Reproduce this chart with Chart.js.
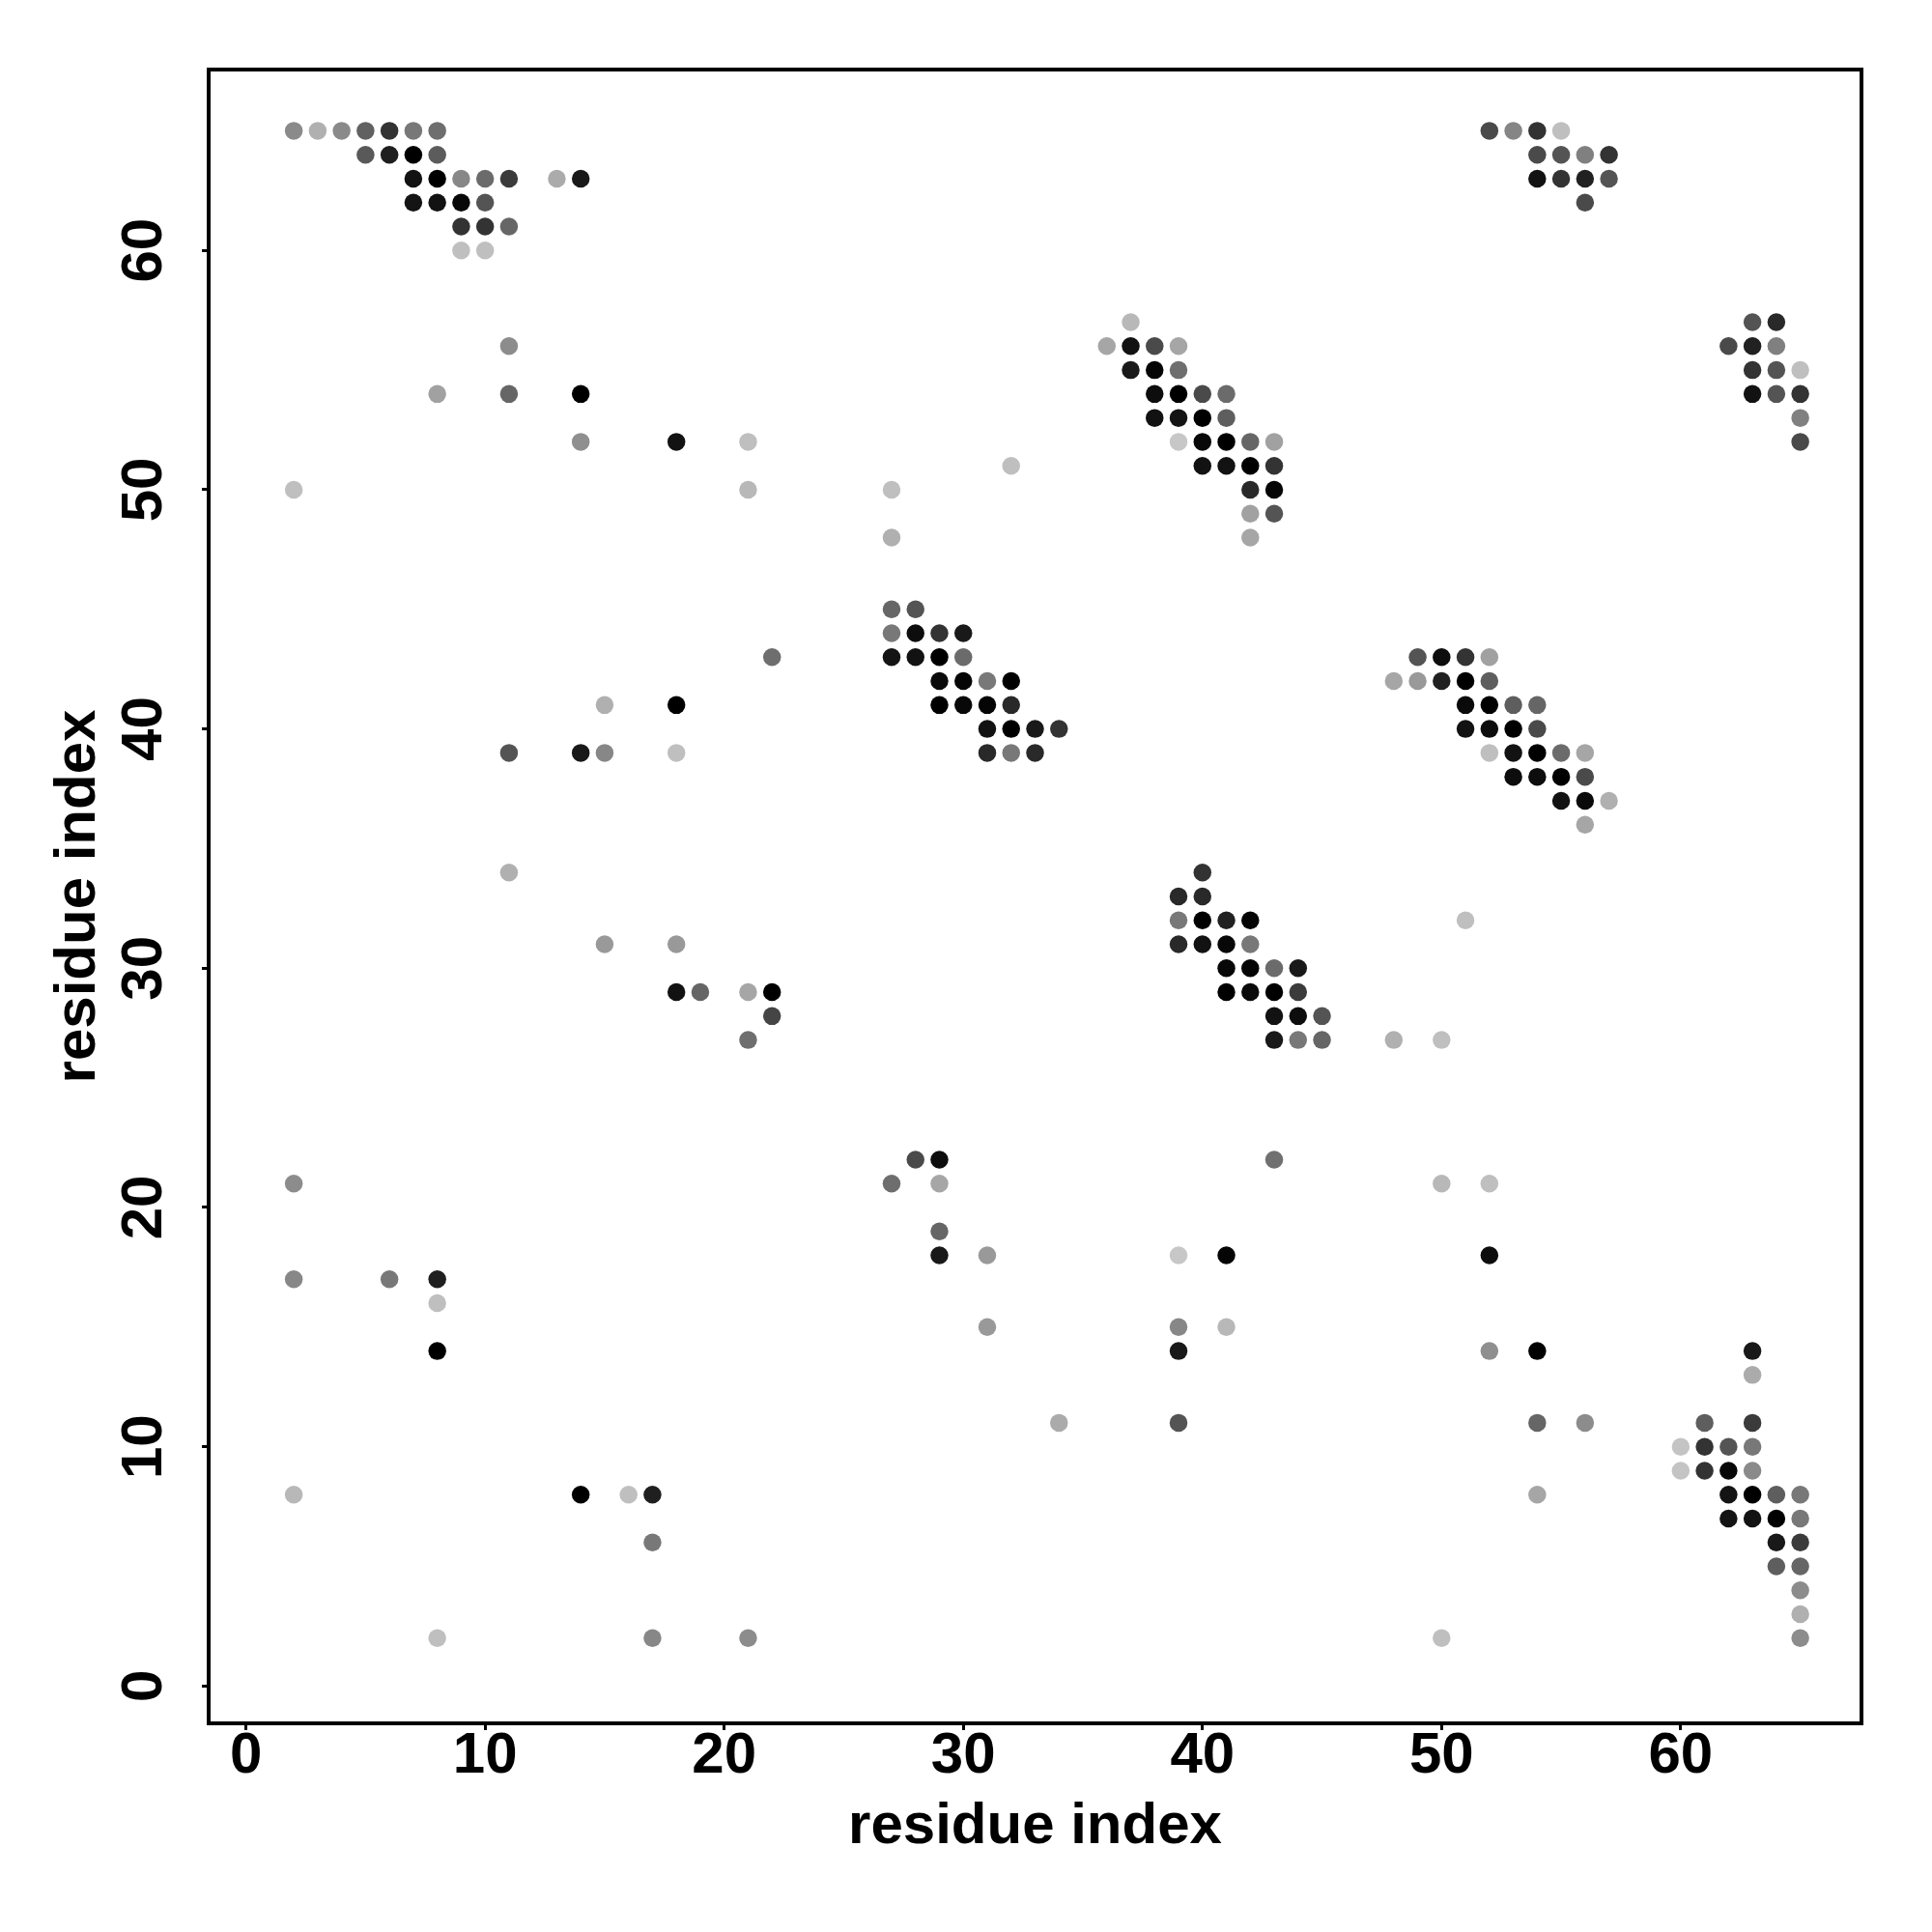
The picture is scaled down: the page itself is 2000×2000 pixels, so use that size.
<!DOCTYPE html>
<html>
<head>
<meta charset="utf-8">
<script src="https://cdn.jsdelivr.net/npm/chart.js@4/dist/chart.umd.min.js"></script>
<style>
  html, body { margin: 0; padding: 0; background: #fff; }
  #wrap { width: 2000px; height: 2000px; }
</style>
</head>
<body>
<div id="wrap"><canvas id="contactMap" width="2000" height="2000"></canvas></div>
<script>
// predicted contacts, one row per second residue index
const rowY = [65, 64, 63, 62, 61, 60, 57, 56, 55, 54, 53, 52, 51, 50, 49, 48, 45, 44, 43, 42,
              41, 40, 39, 38, 37, 36, 34, 33, 32, 31, 30, 29, 28, 27, 22, 21, 19, 18, 17, 16,
              15, 14, 13, 11, 10, 9, 8, 7, 6, 5, 4, 3, 2];

const rowX = [
  [2, 3, 4, 5, 6, 7, 8, 52, 53, 54, 55],
  [5, 6, 7, 8, 54, 55, 56, 57],
  [7, 8, 9, 10, 11, 13, 14, 54, 55, 56, 57],
  [7, 8, 9, 10, 56],
  [9, 10, 11],
  [9, 10],
  [37, 63, 64],
  [11, 36, 37, 38, 39, 62, 63, 64],
  [37, 38, 39, 63, 64, 65],
  [8, 11, 14, 38, 39, 40, 41, 63, 64, 65],
  [38, 39, 40, 41, 65],
  [14, 18, 21, 39, 40, 41, 42, 43, 65],
  [32, 40, 41, 42, 43],
  [2, 21, 27, 42, 43],
  [42, 43],
  [27, 42],
  [27, 28],
  [27, 28, 29, 30],
  [22, 27, 28, 29, 30, 49, 50, 51, 52],
  [29, 30, 31, 32, 48, 49, 50, 51, 52],
  [15, 18, 29, 30, 31, 32, 51, 52, 53, 54],
  [31, 32, 33, 34, 51, 52, 53, 54],
  [11, 14, 15, 18, 31, 32, 33, 52, 53, 54, 55, 56],
  [53, 54, 55, 56],
  [55, 56, 57],
  [56],
  [11, 40],
  [39, 40],
  [39, 40, 41, 42, 51],
  [15, 18, 39, 40, 41, 42],
  [41, 42, 43, 44],
  [18, 19, 21, 22, 41, 42, 43, 44],
  [22, 43, 44, 45],
  [21, 43, 44, 45, 48, 50],
  [28, 29, 43],
  [2, 27, 29, 50, 52],
  [29],
  [29, 31, 39, 41, 52],
  [2, 6, 8],
  [8],
  [31, 39, 41],
  [8, 39, 52, 54, 63],
  [63],
  [34, 39, 54, 56, 61, 63],
  [60, 61, 62, 63],
  [60, 61, 62, 63],
  [2, 14, 16, 17, 54, 62, 63, 64, 65],
  [62, 63, 64, 65],
  [17, 64, 65],
  [64, 65],
  [65],
  [65],
  [8, 17, 21, 50, 65]
];

// contact probability (darker = higher)
const rowProb = [
  [0.46, 0.31, 0.46, 0.62, 0.80, 0.53, 0.57, 0.71, 0.48, 0.80, 0.25],
  [0.65, 0.88, 1.00, 0.64, 0.71, 0.67, 0.50, 0.80],
  [0.93, 1.00, 0.47, 0.58, 0.77, 0.33, 0.90, 0.93, 0.80, 0.87, 0.67],
  [0.92, 0.93, 0.97, 0.67, 0.71],
  [0.80, 0.80, 0.60],
  [0.25, 0.25],
  [0.28, 0.67, 0.84],
  [0.45, 0.35, 0.93, 0.71, 0.35, 0.71, 0.87, 0.50],
  [0.90, 0.98, 0.57, 0.80, 0.67, 0.25],
  [0.37, 0.60, 1.00, 0.95, 1.00, 0.71, 0.58, 0.93, 0.67, 0.80],
  [0.93, 0.92, 1.00, 0.63, 0.50],
  [0.44, 0.93, 0.25, 0.22, 0.97, 1.00, 0.60, 0.37, 0.71],
  [0.25, 0.93, 0.93, 1.00, 0.80],
  [0.25, 0.28, 0.25, 0.84, 0.98],
  [0.37, 0.67],
  [0.31, 0.35],
  [0.60, 0.67],
  [0.53, 0.95, 0.80, 0.90],
  [0.57, 0.92, 0.93, 1.00, 0.58, 0.67, 0.95, 0.80, 0.37],
  [0.96, 0.98, 0.53, 1.00, 0.35, 0.40, 0.87, 1.00, 0.63],
  [0.31, 1.00, 1.00, 0.97, 0.98, 0.84, 0.96, 1.00, 0.63, 0.60],
  [0.93, 1.00, 0.90, 0.80, 0.93, 0.95, 1.00, 0.71],
  [0.67, 0.90, 0.47, 0.25, 0.84, 0.53, 0.84, 0.25, 0.93, 1.00, 0.58, 0.35],
  [0.95, 0.95, 1.00, 0.71],
  [0.93, 0.96, 0.31],
  [0.35],
  [0.31, 0.80],
  [0.84, 0.84],
  [0.53, 1.00, 0.87, 0.98, 0.25],
  [0.40, 0.40, 0.84, 0.93, 0.97, 0.53],
  [0.97, 0.98, 0.58, 0.90],
  [0.93, 0.60, 0.35, 1.00, 1.00, 0.96, 1.00, 0.77],
  [0.73, 0.93, 0.95, 0.67],
  [0.57, 0.90, 0.53, 0.60, 0.31, 0.25],
  [0.71, 0.95, 0.56],
  [0.45, 0.57, 0.35, 0.28, 0.25],
  [0.60],
  [0.90, 0.40, 0.22, 0.98, 0.95],
  [0.47, 0.53, 0.88],
  [0.25],
  [0.40, 0.47, 0.28],
  [1.00, 0.90, 0.44, 1.00, 0.90],
  [0.33],
  [0.33, 0.67, 0.60, 0.45, 0.63, 0.77],
  [0.23, 0.80, 0.67, 0.53],
  [0.23, 0.80, 0.97, 0.46],
  [0.28, 1.00, 0.25, 0.88, 0.35, 0.92, 1.00, 0.63, 0.53],
  [0.92, 0.93, 1.00, 0.53],
  [0.53, 0.90, 0.77],
  [0.63, 0.60],
  [0.45],
  [0.31],
  [0.25, 0.47, 0.45, 0.25, 0.45]
];

const tickValues = [0, 10, 20, 30, 40, 50, 60];
const axisMin = -1.56;
const axisMax = 67.56;

var points = [];
for (let r = 0; r < rowY.length; r++) {
  for (let k = 0; k < rowX[r].length; k++) {
    points.push({ x: rowX[r][k], y: rowY[r], p: rowProb[r][k] });
  }
}

function shade(p) {
  const g = Math.round(255 * (1 - p));
  return 'rgb(' + g + ',' + g + ',' + g + ')';
}

Chart.defaults.font.family = "'Liberation Sans', Arial, Helvetica, sans-serif";
Chart.defaults.color = '#000';

// R style closed box around the plot region
const boxPlugin = {
  id: 'box',
  afterDraw(chart) {
    const c = chart.ctx, a = chart.chartArea;
    c.save();
    c.strokeStyle = '#000';
    c.lineWidth = 4;
    c.strokeRect(a.left, a.top, a.right - a.left, a.bottom - a.top);
    c.restore();
  }
};

var ctx = document.getElementById('contactMap').getContext('2d');

var myChart = new Chart(ctx, {
  type: 'scatter',
  data: {
    datasets: [{
      data: points,
      pointRadius: 9.25,
      pointHoverRadius: 9.25,
      pointBorderWidth: 0,
      pointBackgroundColor: function(c) { return shade(points[c.dataIndex].p); }
    }]
  },
  options: {
    responsive: false,
    animation: false,
    devicePixelRatio: 1,
    events: [],
    layout: { padding: { top: 72, right: 73, left: 0, bottom: 0 } },
    plugins: { legend: { display: false }, tooltip: { enabled: false } },
    scales: {
      x: {
        type: 'linear',
        position: 'bottom',
        min: axisMin,
        max: axisMax,
        afterBuildTicks: function(s) { s.ticks = tickValues.map(v => ({ value: v })); },
        afterFit: function(s) { s.height = 216; },
        border: { display: false },
        grid: { drawOnChartArea: false, drawTicks: true, tickLength: 7, lineWidth: 3, color: '#000' },
        ticks: { padding: -3, maxRotation: 0, color: '#000',
                 font: { size: 60, weight: 'bold', lineHeight: 1 } },
        title: { display: true, text: 'residue index', color: '#000',
                 font: { size: 60, weight: 'bold', lineHeight: 1.2 },
                 padding: { top: 0, bottom: 73 } }
      },
      y: {
        type: 'linear',
        position: 'left',
        min: axisMin,
        max: axisMax,
        afterBuildTicks: function(s) { s.ticks = tickValues.map(v => ({ value: v })); },
        afterFit: function(s) { s.width = 216; },
        border: { display: false },
        grid: { drawOnChartArea: false, drawTicks: true, tickLength: 7, lineWidth: 3, color: '#000' },
        ticks: { padding: 25, minRotation: 90, maxRotation: 90, crossAlign: 'center', color: '#000',
                 font: { size: 60, weight: 'bold', lineHeight: 1 } },
        title: { display: true, text: 'residue index', color: '#000',
                 font: { size: 60, weight: 'bold', lineHeight: 1.2 },
                 padding: { top: 45, bottom: 0 } }
      }
    }
  },
  plugins: [boxPlugin]
});
</script>
</body>
</html>
